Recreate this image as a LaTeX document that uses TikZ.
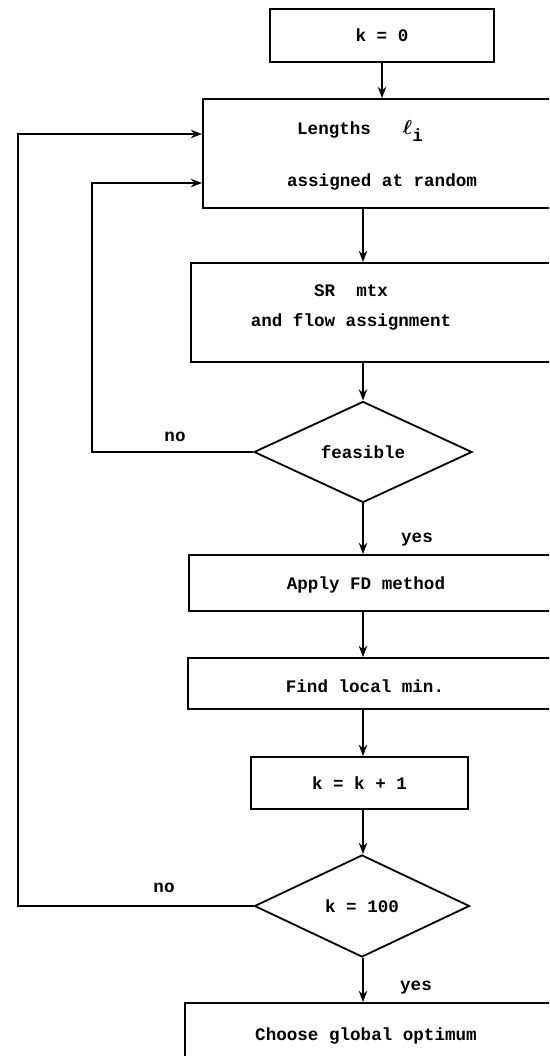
\documentclass[tikz,border=0pt]{standalone}
\usepackage{fontspec}
\setmonofont{Liberation Mono}
\usepackage{tikz}
\usetikzlibrary{arrows.meta,shapes.geometric,positioning}

\begin{document}
\begin{tikzpicture}[x=0.025cm,y=-0.025cm,line width=1.3pt,
  every node/.style={font=\ttfamily\bfseries\fontsize{12.5}{15}\selectfont},
  box/.style={draw,rectangle,inner sep=0pt},
  test/.style={draw,diamond,aspect=2,inner sep=0pt},
  txt/.style={align=center,inner sep=0pt},
  arr/.style={-{Stealth[length=8pt,width=6pt]}}]
\clip (0,0) rectangle (549,1056);
\node[box,minimum width=5.6cm,minimum height=1.325cm] (start) at (382,35.5) {k = 0};
\node[box,minimum width=9.425cm,minimum height=2.725cm] (lengths) at (391.5,153.5) {};
\node[txt] (lentop) at (360,131) {Lengths\ \ \ {\boldmath\fontsize{15}{15}\selectfont$\ell$}\raisebox{-5pt}{i}};
\node[txt] (lenbot) at (382,182) {assigned at random};
\node[box,minimum width=9.725cm,minimum height=2.475cm] (sr) at (385.5,312.5) {};
\node[txt] (srtxt) at (351,307.5) {SR\ \ mtx\\[7pt]and flow assignment};
\node[test,minimum width=5.45cm,minimum height=2.525cm] (feas) at (363,452) {feasible};
\node[box,minimum width=9.775cm,minimum height=1.4cm] (apply) at (384.5,583) {};
\node[txt] (applytxt) at (366,585) {Apply FD method};
\node[box,minimum width=9.8cm,minimum height=1.275cm] (find) at (384,683.5) {};
\node[txt] (findtxt) at (365,686) {Find local min.};
\node[box,minimum width=5.425cm,minimum height=1.3cm] (kk) at (359.5,783) {k = k + 1};
\node[test,minimum width=5.375cm,minimum height=2.55cm] (kcheck) at (362,906) {k = 100};
\node[box,minimum width=9.875cm,minimum height=2.5cm] (choose) at (382.5,1053) {};
\node[txt] (choosetxt) at (366,1036) {Choose global optimum};
\node (no1) at (175,437) {no};
\node (no2) at (164,888) {no};
\node (yes1) at (417,540) {yes};
\node (yes2) at (416,988) {yes};
\coordinate (ax) at (363,0);
\coordinate (inner) at (92,183);
\coordinate (outer) at (18,134);
\draw[arr] (start.south) -- (start.south |- lengths.north);
\foreach \a/\b in {lengths/sr,sr/feas,feas/apply,apply/find,find/kk,kk/kcheck,kcheck/choose}{
  \draw[arr] (ax |- \a.south) -- (ax |- \b.north);
}
\draw[arr] (feas.west) -| (inner) -- (inner -| lengths.west);
\draw[arr] (kcheck.west) -| (outer) -- (outer -| lengths.west);
\end{tikzpicture}
\end{document}
